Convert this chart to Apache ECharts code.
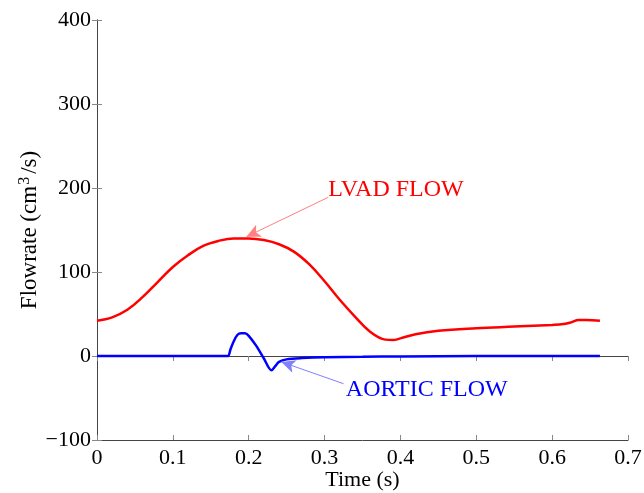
<!DOCTYPE html>
<html>
<head>
<meta charset="utf-8">
<script src="https://cdn.jsdelivr.net/npm/echarts@6/dist/echarts.min.js"></script>
<style>
  html, body { margin: 0; padding: 0; background: #fff; }
  #chart { width: 644px; height: 493px; }
</style>
</head>
<body>
<div id="chart"></div>
<script>
// LVAD flow (red), time in s, flow in cm^3/s
const lvadTime = [0, 0.02, 0.04, 0.06, 0.08, 0.10, 0.12, 0.14, 0.16, 0.18, 0.20, 0.22, 0.24, 0.26, 0.28, 0.30, 0.32, 0.34, 0.36, 0.38, 0.39, 0.40, 0.42, 0.45, 0.50, 0.55, 0.60, 0.615, 0.625, 0.635, 0.645, 0.663];
const lvadFlow = [42, 46, 55, 70, 88, 106, 120, 131, 137, 140, 140, 138, 133, 124, 109, 89, 67, 47, 29, 19.5, 19, 21, 26, 30, 33, 35, 37, 38, 40, 43, 43, 42];

// aortic flow (blue)
const aorticTime = [0, 0.17, 0.173, 0.176, 0.18, 0.185, 0.19, 0.195, 0.20, 0.21, 0.22, 0.23, 0.235, 0.24, 0.25, 0.27, 0.30, 0.35, 0.40, 0.50, 0.663];
const aorticFlow = [0, 0, 0, 8, 17, 25, 27, 27, 24, 12, -3, -17, -12, -7, -4, -2.5, -1.5, -1, -0.5, 0, 0];

// annotations: [time, flow]
const lvadArrow = [[0.305, 189], [0.197, 142]];
const lvadLabelAt = [0.305, 198];
const aorticArrow = [[0.325, -33], [0.243, -7]];
const aorticLabelAt = [0.328, -40];

const xTicks = { min: 0, max: 0.7, interval: 0.1 };
const yTicks = { min: -100, max: 400, interval: 100 };

const serif = 'Liberation Serif';

function pairs(xs, ys) {
    return xs.map((x, i) => [x, ys[i]]);
}

function hiddenAxis(base) {
    return Object.assign({
        type: 'value',
        axisLine: { show: true, lineStyle: { color: '#444', width: 1 } },
        axisTick: { show: true, inside: true, length: 5, lineStyle: { color: '#888' } },
        axisLabel: { show: false },
        splitLine: { show: false }
    }, base);
}

let chart = echarts.init(document.getElementById('chart'));
chart.setOption({
    backgroundColor: '#fff',
    animation: false,
    grid: { left: 97, right: 16, top: 20, bottom: 53, outerBoundsMode: 'none', containLabel: false },
    xAxis: [
        {
            type: 'value',
            min: xTicks.min, max: xTicks.max, interval: xTicks.interval,
            name: 'Time (s)',
            nameLocation: 'middle',
            nameGap: 29,
            nameMoveOverlap: false,
            nameTextStyle: { fontFamily: serif, fontSize: 22, color: '#000' },
            axisLine: { show: true, onZero: false, lineStyle: { color: '#444', width: 1 } },
            axisTick: { show: true, inside: true, length: 5, lineStyle: { color: '#888' } },
            axisLabel: {
                fontFamily: serif, fontSize: 22, color: '#000', margin: 7,
                formatter: v => String(Math.round(v * 10) / 10)
            },
            splitLine: { show: false }
        },
        hiddenAxis({ position: 'top', min: xTicks.min, max: xTicks.max, interval: xTicks.interval })
    ],
    yAxis: [
        {
            type: 'value',
            min: yTicks.min, max: yTicks.max, interval: yTicks.interval,
            name: 'Flowrate (cm{sup|3}/s)',
            nameLocation: 'middle',
            nameGap: 54,
            nameRotate: 90,
            nameMoveOverlap: false,
            nameTextStyle: {
                fontFamily: serif, fontSize: 23, color: '#000',
                rich: { sup: { fontFamily: serif, fontSize: 16, color: '#000', verticalAlign: 'top', padding: [0, 3, 10, 1] } }
            },
            axisLine: { show: true, onZero: false, lineStyle: { color: '#444', width: 1 } },
            axisTick: { show: true, inside: true, length: 5, lineStyle: { color: '#888' } },
            axisLabel: {
                fontFamily: serif, fontSize: 22, color: '#000', margin: 6,
                formatter: v => (v < 0 ? '\u2212' + Math.abs(v) : String(v))
            },
            splitLine: { show: false }
        },
        hiddenAxis({ position: 'right', min: yTicks.min, max: yTicks.max, interval: yTicks.interval })
    ],
    series: [
        {
            name: 'LVAD FLOW',
            type: 'line',
            data: pairs(lvadTime, lvadFlow),
            showSymbol: false,
            smooth: 0.4,
            lineStyle: { color: '#ff0000', width: 2.5 },
            markLine: {
                silent: true,
                symbol: ['none', 'arrow'],
                symbolSize: [10, 14],
                label: { show: false },
                lineStyle: { color: '#ff8080', width: 1, type: 'solid' },
                data: [[{ coord: lvadArrow[0] }, { coord: lvadArrow[1] }]]
            },
            markPoint: {
                silent: true,
                symbol: 'circle',
                symbolSize: 0,
                label: {
                    show: true, position: 'right', distance: 0,
                    formatter: 'LVAD FLOW',
                    fontFamily: serif, fontSize: 24, color: '#ff0000'
                },
                data: [{ coord: lvadLabelAt }]
            }
        },
        {
            name: 'AORTIC FLOW',
            type: 'line',
            data: pairs(aorticTime, aorticFlow),
            showSymbol: false,
            smooth: 0.3,
            lineStyle: { color: '#0000ff', width: 2.5 },
            markLine: {
                silent: true,
                symbol: ['none', 'arrow'],
                symbolSize: [10, 14],
                label: { show: false },
                lineStyle: { color: '#8080ff', width: 1, type: 'solid' },
                data: [[{ coord: aorticArrow[0] }, { coord: aorticArrow[1] }]]
            },
            markPoint: {
                silent: true,
                symbol: 'circle',
                symbolSize: 0,
                label: {
                    show: true, position: 'right', distance: 0,
                    formatter: 'AORTIC FLOW',
                    fontFamily: serif, fontSize: 24, color: '#0000ff'
                },
                data: [{ coord: aorticLabelAt }]
            }
        }
    ]
});
</script>
</body>
</html>
